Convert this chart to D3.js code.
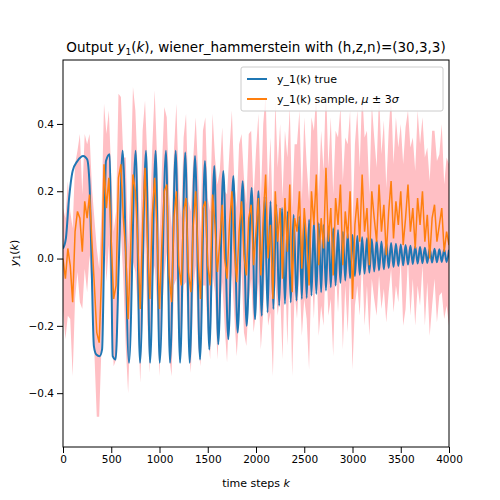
<!DOCTYPE html>
<html>
<head>
<meta charset="utf-8">
<style>
  body { margin: 0; background: white; font-family: "DejaVu Sans", sans-serif; }
  .tick text { font-size: 10.5px; font-family: "DejaVu Sans", sans-serif; }
</style>
</head>
<body>
<svg width="500" height="500"></svg>
<script src="https://d3js.org/d3.v7.min.js"></script>
<script>
// true output: turning points
let trueK = [0,30,60,100,150,210,250,275,295,320,345,380,405,425,445,485,500,515,545,580,
  618,684,753,798,860,902,960,1002,1067,1109,1168,1213,1267,1313,1368,1420,1471,1516,1568,1609,
  1661,1713,1765,1810,1862,1903,1955,1990,2025,2060,2090,2120,2150,2180,2210,2240,2270,2300,2330,
  2360,2390,2420,2450,2475,2500,2525,2550,2575,2600,2625,2650,2675,2700,2725,2750,2775,2800,2825,
  2850,2875,2900,2925,2950,2975,3000,3025,3050,3075,3100,3125,3150,3175,3200,3225,3250,3275,3300,
  3325,3350,3375,3400,3425,3450,3475,3500,3525,3550,3575,3600,3625,3650,3675,3700,3725,3750,3775,
  3800,3825,3850,3875,3900,3925,3950,3975,4000];
let trueY = [0.03,0.06,0.17,0.26,0.29,0.305,0.295,0.22,0.0,-0.26,-0.285,-0.29,-0.27,0.0,0.29,0.31,0.0,-0.29,-0.30,0.0,
  0.32,-0.31,0.32,-0.31,0.32,-0.31,0.32,-0.31,0.32,-0.31,0.32,-0.31,0.315,-0.31,0.305,-0.30,0.29,-0.27,0.275,-0.255,
  0.26,-0.24,0.245,-0.22,0.23,-0.20,0.21,-0.18,0.20,-0.17,0.185,-0.16,0.17,-0.15,0.16,-0.14,0.15,-0.135,0.14,
  -0.13,0.13,-0.125,0.125,-0.12,0.12,-0.117,0.115,-0.11,0.11,-0.105,0.105,-0.10,0.10,-0.095,0.095,-0.085,0.09,-0.08,
  0.085,-0.072,0.08,-0.065,0.075,-0.058,0.07,-0.052,0.067,-0.048,0.063,-0.045,0.06,-0.042,0.057,-0.038,0.054,-0.035,0.051,
  -0.032,0.048,-0.028,0.046,-0.025,0.044,-0.022,0.042,-0.02,0.04,-0.018,0.038,-0.016,0.036,-0.015,0.034,-0.014,0.032,-0.013,
  0.03,-0.012,0.029,-0.011,0.028,-0.01,0.027,-0.01,0.026];

// sample mean every 25 steps
let sampleStep = 25;
let sampleMean = [0.00,-0.06,0.03,-0.02,-0.13,0.08,0.14,0.12,0.02,0.17,0.12,0.19,0.05,-0.08,-0.22,-0.25,-0.05,0.28,0.15,0.24,
  0.05,-0.12,-0.08,0.24,0.28,0.12,0.02,-0.18,0.02,0.25,0.20,0.05,-0.15,0.10,0.27,0.05,-0.12,0.13,0.24,0.08,
  -0.15,0.05,0.20,0.22,-0.05,-0.13,0.12,0.20,-0.02,-0.08,0.14,0.18,-0.04,-0.10,0.10,0.20,0.00,-0.12,0.15,0.17,
  -0.02,-0.08,0.19,0.10,-0.04,0.05,0.16,0.00,-0.06,0.10,0.20,0.03,-0.07,0.08,0.17,0.01,-0.05,0.12,0.16,-0.02,
  0.08,0.18,-0.05,0.12,0.25,0.00,0.10,-0.12,0.20,0.05,0.15,-0.06,0.18,0.02,0.22,-0.10,0.12,0.08,0.20,-0.03,
  0.15,0.05,-0.08,0.20,0.10,0.25,-0.02,0.12,0.03,0.27,0.05,0.15,-0.05,0.18,0.10,0.22,-0.02,0.14,0.06,0.20,
  -0.12,0.10,0.18,0.05,0.25,0.08,0.15,-0.02,0.20,0.12,0.05,0.22,0.08,0.16,0.01,0.14,0.23,0.06,0.17,0.10,
  0.20,0.04,0.12,0.22,0.08,0.15,0.03,0.18,0.10,0.20,0.05,0.13,0.00,0.12,0.16,0.05,0.10,0.15,0.02,0.08,0.04];
let threeSigma = [0.15,0.18,0.2,0.16,0.22,0.2,0.18,0.25,0.17,0.2,0.22,0.18,0.16,0.2,0.25,0.22,0.2,0.18,0.22,0.2,0.2,
  0.2,0.22,0.25,0.2,0.18,0.28,0.22,0.2,0.26,0.24,0.2,0.22,0.28,0.2,0.24,0.22,0.2,0.26,0.22,0.2,
  0.22,0.25,0.2,0.24,0.22,0.2,0.26,0.23,0.2,0.22,0.25,0.21,0.24,0.2,0.22,0.26,0.2,0.23,0.25,0.2,
  0.22,0.24,0.2,0.26,0.21,0.23,0.2,0.25,0.22,0.24,0.2,0.22,0.26,0.2,0.23,0.21,0.25,0.22,0.2,0.24,
  0.25,0.22,0.28,0.24,0.2,0.26,0.23,0.27,0.22,0.25,0.24,0.2,0.28,0.23,0.25,0.22,0.26,0.24,0.2,0.27,
  0.23,0.25,0.22,0.28,0.24,0.21,0.26,0.23,0.25,0.22,0.27,0.24,0.2,0.26,0.23,0.25,0.22,0.28,0.24,0.21,
  0.24,0.26,0.22,0.25,0.28,0.23,0.21,0.26,0.24,0.22,0.27,0.23,0.25,0.2,0.24,0.26,0.22,0.25,0.23,0.2,
  0.24,0.27,0.22,0.25,0.21,0.23,0.26,0.24,0.22,0.25,0.2,0.23,0.26,0.22,0.24,0.21,0.25,0.2,0.22,0.24];

let xTicks = [0,500,1000,1500,2000,2500,3000,3500,4000];
let yTicks = [-0.4,-0.2,0.0,0.2,0.4];

let m = { left: 63, right: 449, top: 60, bottom: 447 };
let svg = d3.select("svg");

let x = d3.scaleLinear().domain([0, 4000]).range([m.left, m.right]);
let y = d3.scaleLinear().domain([-0.56, 0.59]).range([m.bottom, m.top]);

let samples = sampleMean.map((v, i) => ({ k: i * sampleStep, v: v, s: threeSigma[i] }));
let truth = trueK.map((k, i) => ({ k: k, v: trueY[i] }));

svg.append("defs").append("clipPath").attr("id", "clip")
  .append("rect").attr("x", m.left).attr("y", m.top)
  .attr("width", m.right - m.left).attr("height", m.bottom - m.top);

let g = svg.append("g").attr("clip-path", "url(#clip)");

g.append("path")
  .datum(samples)
  .attr("d", d3.area().x(d => x(d.k)).y0(d => y(d.v - d.s)).y1(d => y(d.v + d.s)))
  .style("fill", "#ffbfc4");

g.append("path")
  .datum(truth)
  .attr("d", d3.line().x(d => x(d.k)).y(d => y(d.v)).curve(d3.curveMonotoneX))
  .style("fill", "none").style("stroke", "#1f77b4").style("stroke-width", 2);

g.append("path")
  .datum(samples)
  .attr("d", d3.line().x(d => x(d.k)).y(d => y(d.v)))
  .style("fill", "none").style("stroke", "#ff7f0e").style("stroke-width", 1.5);

// axes
svg.append("g").attr("transform", "translate(0," + m.bottom + ")")
  .call(d3.axisBottom(x).tickValues(xTicks).tickFormat(d3.format("d")).tickSizeOuter(0));
svg.append("g").attr("transform", "translate(" + m.left + ",0)")
  .call(d3.axisLeft(y).tickValues(yTicks).tickFormat(d3.format(".1f")).tickSizeOuter(0));
svg.selectAll(".domain").remove();
svg.append("rect").attr("x", m.left).attr("y", m.top)
  .attr("width", m.right - m.left).attr("height", m.bottom - m.top)
  .style("fill", "none").style("stroke", "black").style("stroke-width", 1);
svg.selectAll(".tick text").text(function () { return this.textContent.replace("-", "\u2212"); });

// title
let title = svg.append("text").attr("x", 256).attr("y", 52).attr("text-anchor", "middle")
  .style("font-size", "13.5px");
title.append("tspan").text("Output ");
title.append("tspan").style("font-style", "italic").text("y");
title.append("tspan").attr("dy", 3).style("font-size", "9px").text("1");
title.append("tspan").attr("dy", -3).text("(");
title.append("tspan").style("font-style", "italic").text("k");
title.append("tspan").text("), wiener_hammerstein with (h,z,n)=(30,3,3)");

// x label
let xl = svg.append("text").attr("x", 256).attr("y", 487).attr("text-anchor", "middle")
  .style("font-size", "11px");
xl.append("tspan").text("time steps ");
xl.append("tspan").style("font-style", "italic").text("k");

// y label
let yl = svg.append("text").attr("transform", "translate(18," + 253 + ") rotate(-90)")
  .attr("text-anchor", "middle").style("font-size", "11px");
yl.append("tspan").style("font-style", "italic").text("y");
yl.append("tspan").attr("dy", 2).style("font-size", "8px").text("1");
yl.append("tspan").attr("dy", -2).text("(");
yl.append("tspan").style("font-style", "italic").text("k");
yl.append("tspan").text(")");

// legend
let lg = svg.append("g").attr("transform", "translate(241,67)");
lg.append("rect").attr("width", 202).attr("height", 44).attr("rx", 2)
  .style("fill", "white").style("fill-opacity", 0.8).style("stroke", "#ccc");
let items = [{ c: "#1f77b4", t: "y_1(k) true" }, { c: "#ff7f0e", t: "y_1(k) sample, " }];
items.forEach((it, i) => {
  let yy = 12 + i * 20;
  lg.append("line").attr("x1", 6).attr("x2", 26).attr("y1", yy).attr("y2", yy)
    .style("stroke", it.c).style("stroke-width", 2);
  let t = lg.append("text").attr("x", 36).attr("y", yy + 4).style("font-size", "11px").text(it.t);
  if (i === 1) {
    t.append("tspan").style("font-style", "italic").text("\u03bc");
    t.append("tspan").text(" \u00b1 3");
    t.append("tspan").style("font-style", "italic").text("\u03c3");
  }
});
</script>
</body>
</html>
